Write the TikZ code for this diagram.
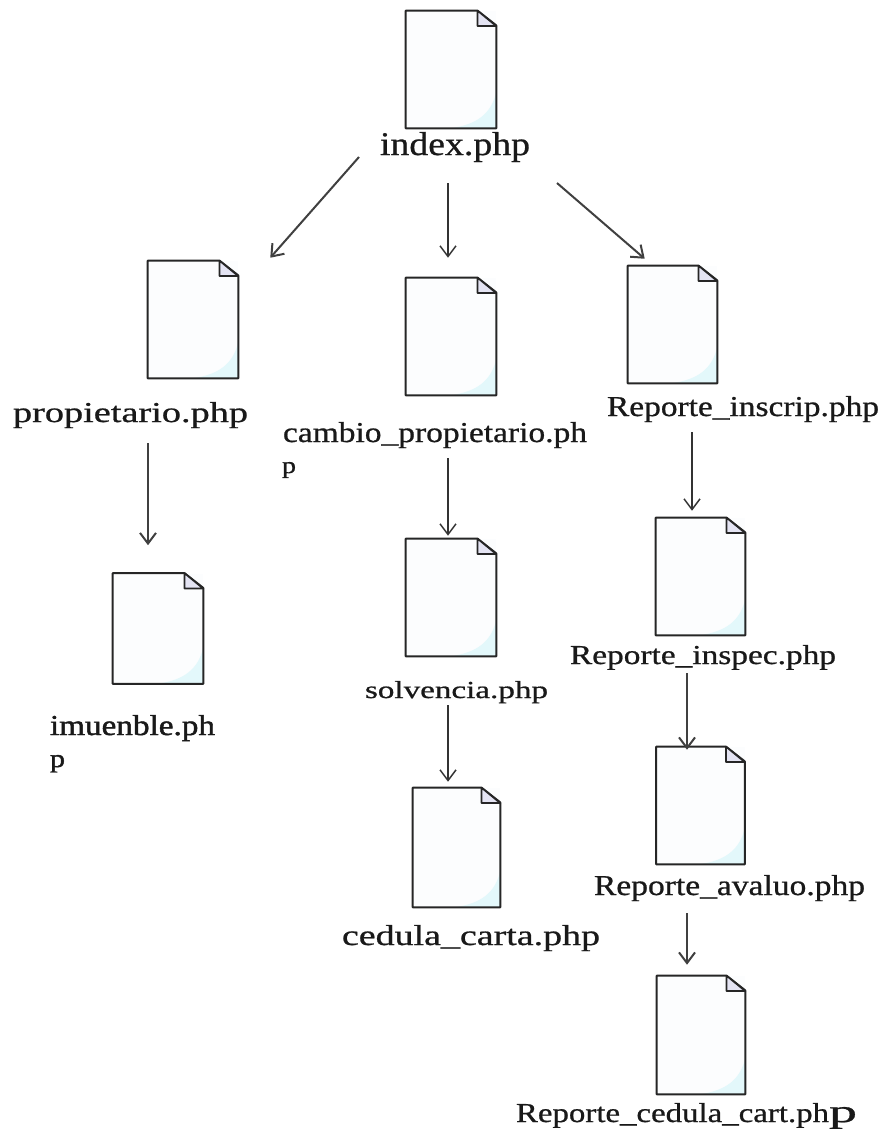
\documentclass[tikz,border=0pt]{standalone}
\usepackage{fontspec}
\usepackage{graphicx}
\setmainfont{Liberation Serif}
\newfontfamily\filefont[FakeBold=0.7]{Liberation Serif}
\newfontfamily\heavyfont[FakeBold=1.4]{Liberation Serif}
\usetikzlibrary{arrows.meta}

\definecolor{docwhite}{HTML}{FCFDFE}
\definecolor{doccyan}{HTML}{E3F8FB}
\definecolor{doclilac}{HTML}{E4E4F3}

\newlength{\pxu}
\setlength{\pxu}{0.75pt}
\newcommand{\stretched}[3]{\resizebox{#1\pxu}{#2\pxu}{#3}}
\newcommand{\docfile}[5]{%
  \node[docbody,minimum width=#4*0.75pt,minimum height=#5*0.75pt] (#1) at (#2,#3) {};
  \fill[doctint] ([yshift=27pt]#1.south east) .. controls ([xshift=-4pt,yshift=11pt]#1.south east) and ([xshift=-14pt,yshift=3pt]#1.south east) .. ([xshift=-34pt]#1.south east) -- (#1.south east) -- cycle;
  \draw[docline] (#1.south west) -- (#1.north west) -- ([xshift=-14pt]#1.north east) -- ([yshift=-11pt]#1.north east) -- (#1.south east) -- cycle;
  \filldraw[docfold] ([xshift=-14pt]#1.north east) -- ([xshift=-14pt,yshift=-11.5pt]#1.north east) -- ([yshift=-11.5pt]#1.north east) -- cycle;
}

\begin{document}
\begin{tikzpicture}[x=0.75pt,y=-0.75pt,>={Straight Barb[length=8pt,width=12pt]},
        docbody/.style={rectangle,inner sep=0pt,fill=docwhite},
        doctint/.style={fill=doccyan},
        docline/.style={line width=1.5pt,draw=black!85,line join=round},
        docfold/.style={line width=1.3pt,draw=black!85,fill=doclilac,line join=round},
        filelabel/.style={anchor=base,inner sep=0pt,text=black!90,font=\filefont},
        heavylabel/.style={filelabel,font=\heavyfont},
        flow/.style={->,line width=1.1pt,draw=black!80},
        flowheavy/.style={->,line width=1.5pt,draw=black!75}]

  \useasboundingbox (0,0) rectangle (884,1133);

  \docfile{index_doc}{451}{69.5}{90}{117}
  \docfile{propietario_doc}{193}{319.5}{90}{117}
  \docfile{cambio_doc}{451}{336.5}{90}{117}
  \docfile{inscrip_doc}{672.5}{324.5}{89}{117}
  \docfile{imuenble_doc}{158}{628.5}{90}{110}
  \docfile{solvencia_doc}{451}{597.5}{90}{117}
  \docfile{carta_doc}{456.5}{847.5}{87}{119}
  \docfile{inspec_doc}{700.5}{576.5}{89}{117}
  \docfile{avaluo_doc}{700.5}{805.5}{88}{117}
  \docfile{cedula_doc}{701}{1035}{88}{118}

  \node[filelabel] (index_lbl) at (455,155) {\stretched{150}{23}{index.php}};
  \node[filelabel] (propietario_lbl) at (130.5,422) {\stretched{235}{20}{propietario.php}};
  \node[filelabel] (cambio_lbl) at (435,442) {\stretched{304}{20}{cambio\_propietario.ph}};
  \node[filelabel] (cambio_tail) at (289,473) {\stretched{14}{11}{p}};
  \node[filelabel] (inscrip_lbl) at (743,416) {\stretched{272}{20}{Reporte\_inscrip.php}};
  \node[heavylabel] (imuenble_lbl) at (132.5,735) {\stretched{165}{20}{imuenble.ph}};
  \node[heavylabel] (imuenble_tail) at (57.5,767) {\stretched{15}{12}{p}};
  \node[filelabel] (solvencia_lbl) at (456.5,698) {\stretched{183}{17}{solvencia.php}};
  \node[filelabel] (carta_lbl) at (471,945) {\stretched{258}{20}{cedula\_carta.php}};
  \node[filelabel] (inspec_lbl) at (703,664) {\stretched{266}{19}{Reporte\_inspec.php}};
  \node[filelabel] (avaluo_lbl) at (729.5,895) {\stretched{271}{20}{Reporte\_avaluo.php}};
  \node[filelabel] (cedula_lbl) at (686.5,1122) {\stretched{313}{19}{Reporte\_cedula\_cart.ph}\stretched{28}{15}{p}};

  \draw[flowheavy] ([shift={(-96,2)}]index_lbl.base) -- ([shift={(32,-3)}]propietario_doc.north east);
  \draw[flow] ([shift={(-7,28)}]index_lbl.base) -- ([shift={(-3,-20)}]cambio_doc.north);
  \draw[flowheavy] ([shift={(102,28)}]index_lbl.base) -- ([shift={(17,-7)}]inscrip_doc.north west);
  \draw[flowheavy] ([shift={(17.5,21)}]propietario_lbl.base) -- ([shift={(-10,-28)}]imuenble_doc.north);
  \draw[flow] ([shift={(13,16)}]cambio_lbl.base) -- ([shift={(-3,-3)}]solvencia_doc.north);
  \draw[flow] ([shift={(-8.5,7)}]solvencia_lbl.base) -- ([shift={(-8.5,-6)}]carta_doc.north);
  \draw[flow] ([shift={(-51,16)}]inscrip_lbl.base) -- ([shift={(-8.5,-7)}]inspec_doc.north);
  \draw[flowheavy] ([shift={(-16,9)}]inspec_lbl.base) -- ([shift={(-13.5,3)}]avaluo_doc.north);
  \draw[flowheavy] ([shift={(-42.5,18)}]avaluo_lbl.base) -- ([shift={(-14,-11)}]cedula_doc.north);

\end{tikzpicture}
\end{document}
